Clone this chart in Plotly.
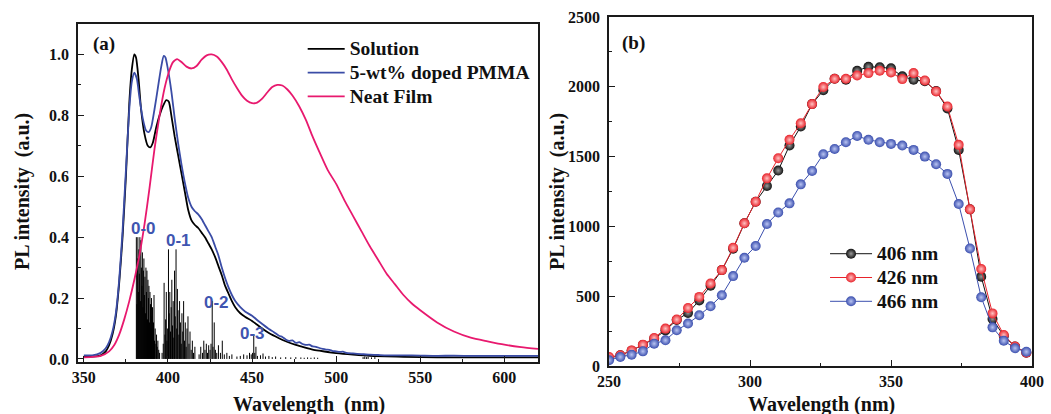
import plotly.graph_objects as go

# ---------------- (a) PL spectra ----------------
SOL_NM = [350, 355, 360, 363, 365, 367, 369, 371, 373, 375, 377, 378.5, 380, 381, 382.5,
          384, 386, 388, 389.5, 391, 393, 395, 397, 399, 400.5, 402, 404, 406, 408, 410,
          412, 414, 416, 418, 420, 422, 424, 426, 428, 430, 432, 434, 436, 438, 440, 443,
          446, 450, 456, 460, 466, 470, 476, 480, 486, 490, 496, 500, 510, 520, 540, 560,
          580, 600, 620]
SOL_I = [0.008, 0.008, 0.012, 0.025, 0.045, 0.08, 0.14, 0.25, 0.40, 0.60, 0.84, 0.95, 1.0,
         0.99, 0.92, 0.82, 0.74, 0.70, 0.695, 0.71, 0.76, 0.80, 0.83, 0.85, 0.845, 0.80,
         0.73, 0.67, 0.61, 0.55, 0.49, 0.455, 0.44, 0.43, 0.415, 0.40, 0.38, 0.36, 0.335,
         0.305, 0.275, 0.24, 0.215, 0.19, 0.17, 0.15, 0.138, 0.125, 0.10, 0.085, 0.068,
         0.058, 0.046, 0.04, 0.031, 0.027, 0.022, 0.019, 0.014, 0.01, 0.007, 0.005, 0.005,
         0.005, 0.005]

PMMA_NM = [350, 355, 360, 363, 365, 367, 369, 371, 373, 375, 377, 378.5, 380, 381.5, 383,
           385, 387, 388.5, 390, 392, 394, 396, 397.5, 398.5, 400, 402, 404, 406, 408, 410,
           412, 414, 416, 418, 420, 422, 424, 426, 428, 430, 432, 434, 436, 438, 440, 443,
           446, 450, 453, 456, 460, 463, 466, 468, 470, 472, 474, 476, 478, 480, 482, 484,
           486, 488, 490, 492, 494, 496, 498, 500, 502, 504, 506, 510, 515, 520, 525, 530,
           540, 550, 560, 570, 580, 590, 600, 610, 620]
PMMA_I = [0.012, 0.012, 0.02, 0.035, 0.055, 0.09, 0.15, 0.26, 0.42, 0.62, 0.82, 0.91, 0.94,
          0.92, 0.86, 0.79, 0.75, 0.745, 0.76, 0.82, 0.89, 0.96, 0.995, 0.99, 0.95, 0.88,
          0.79, 0.71, 0.64, 0.58, 0.53, 0.50, 0.485, 0.475, 0.46, 0.44, 0.42, 0.40, 0.37,
          0.34, 0.30, 0.265, 0.235, 0.21, 0.19, 0.17, 0.155, 0.142, 0.128, 0.115, 0.098,
          0.088, 0.076, 0.072, 0.064, 0.059, 0.061, 0.053, 0.055, 0.049, 0.046, 0.047,
          0.041, 0.040, 0.036, 0.033, 0.031, 0.030, 0.026, 0.025, 0.023, 0.024, 0.020,
          0.018, 0.016, 0.014, 0.013, 0.012, 0.012, 0.011, 0.010, 0.011, 0.010, 0.010,
          0.010, 0.010, 0.010]

FILM_NM = [350, 360, 365, 368, 371, 374, 377, 380, 383, 386, 389, 392, 395, 398, 401, 403,
           405.5, 408, 411, 414, 417, 420, 423, 426, 429, 432, 435, 438, 441, 444, 447, 450,
           453, 456, 459, 462, 465, 468, 471, 474, 478, 482, 486, 490, 495, 500, 505, 510,
           515, 520, 525, 530, 535, 540, 545, 550, 560, 570, 580, 590, 600, 610, 620]
FILM_I = [0.005, 0.01, 0.025, 0.045, 0.08, 0.13, 0.19, 0.26, 0.34, 0.44, 0.56, 0.69, 0.80,
          0.89, 0.95, 0.975, 0.985, 0.975, 0.96, 0.954, 0.962, 0.983, 0.997, 1.0, 0.993,
          0.975, 0.95, 0.918, 0.89, 0.865, 0.848, 0.84, 0.842, 0.855, 0.875, 0.893, 0.90,
          0.898, 0.885, 0.865, 0.83, 0.785, 0.73, 0.68, 0.62, 0.575, 0.52, 0.47, 0.42,
          0.37, 0.325, 0.28, 0.245, 0.21, 0.182, 0.16, 0.12, 0.09, 0.07, 0.058, 0.047,
          0.039, 0.033]

# calculated vibronic stick spectrum
STICK_NM = [381.2, 381.5, 381.8, 382.1, 382.4, 382.7, 383.0, 383.3, 383.6, 383.9, 384.2,
            384.5, 384.8, 385.1, 385.4, 385.7, 386.0, 386.3, 386.6, 386.9, 387.2, 387.5,
            387.8, 388.1, 388.4, 388.7, 389.0, 389.3, 389.6, 389.9, 390.2, 390.5, 390.8,
            391.1, 391.4, 391.7, 392.0, 392.4, 392.8, 393.2, 393.6, 394.0, 394.5, 395.0,
            396.5, 397.2, 397.7, 398.2, 398.6, 399.0, 399.4, 399.8, 400.3, 400.7, 401.1,
            401.5, 401.9, 402.3, 402.7, 403.1, 403.5, 403.9, 404.3, 404.8, 405.2, 405.6,
            406.0, 406.5, 406.9, 407.4, 407.9, 408.3, 408.8, 409.3, 409.8, 410.3, 410.8,
            411.3, 411.9, 412.5, 413.1, 413.8, 414.5, 415.2, 416.0,
            418.5, 419.5, 420.5, 421.3, 422.0, 422.8, 423.5, 424.2, 425.0, 425.6, 426.3,
            426.8, 427.5, 428.2, 429.0, 430.0, 431.2, 432.3, 433.5, 435.0, 436.5, 438.0,
            441.0, 443.0, 445.0, 447.0, 448.5, 449.5, 450.3, 451.0, 451.6, 452.3, 453.2,
            455.0, 456.5, 458.0, 460.0, 462.0, 464.0, 467.0, 470.0, 473.0, 476.0, 479.0,
            481.0, 483.0, 485.0, 487.0, 489.0, 516.0, 517.0, 518.0, 519.0, 521.0, 523.0]
STICK_H = [0.40, 0.18, 0.33, 0.40, 0.22, 0.36, 0.28, 0.40, 0.19, 0.39, 0.30,
           0.24, 0.35, 0.17, 0.29, 0.33, 0.21, 0.27, 0.15, 0.30, 0.22, 0.29,
           0.13, 0.26, 0.20, 0.24, 0.12, 0.22, 0.18, 0.10, 0.20, 0.14, 0.17,
           0.08, 0.12, 0.21, 0.06, 0.10, 0.05, 0.08, 0.04, 0.06, 0.03, 0.02,
           0.02, 0.05, 0.25, 0.08, 0.13, 0.22, 0.06, 0.10, 0.36, 0.15, 0.22,
           0.09, 0.17, 0.26, 0.11, 0.19, 0.07, 0.29, 0.14, 0.36, 0.10, 0.23,
           0.16, 0.08, 0.19, 0.12, 0.05, 0.15, 0.09, 0.19, 0.06, 0.12, 0.04,
           0.10, 0.14, 0.05, 0.09, 0.03, 0.06, 0.02, 0.04,
           0.015, 0.04, 0.02, 0.06, 0.03, 0.05, 0.02, 0.045, 0.03, 0.05, 0.19,
           0.04, 0.12, 0.03, 0.02, 0.045, 0.02, 0.06, 0.015, 0.02, 0.01, 0.015,
           0.008, 0.01, 0.015, 0.012, 0.02, 0.015, 0.02, 0.08, 0.02, 0.04, 0.01,
           0.012, 0.018, 0.008, 0.01, 0.006, 0.008, 0.005, 0.006, 0.005, 0.006, 0.005,
           0.004, 0.005, 0.004, 0.005, 0.004, 0.006, 0.008, 0.006, 0.007, 0.005, 0.006]

BAND_LABELS = ["0-0", "0-1", "0-2", "0-3"]
BAND_NM = [385.6, 406.4, 429.0, 450.4]
BAND_Y = [0.427, 0.39, 0.185, 0.085]

# ---------------- (b) excitation spectra ----------------
EXC_NM = [250, 254, 258, 262, 266, 270, 274, 278, 282, 286, 290, 294, 298, 302, 306, 310,
          314, 318, 322, 326, 330, 334, 338, 342, 346, 350, 354, 358, 362, 366, 370, 374,
          378, 382, 386, 390, 394, 398]
I406 = [55, 77, 110, 150, 195, 255, 330, 380, 470, 575, 687, 840, 1022, 1177, 1290, 1400,
        1580, 1715, 1876, 1975, 2057, 2050, 2115, 2143, 2140, 2132, 2075, 2050, 2040, 1970,
        1845, 1548, 1122, 640, 337, 215, 140, 95]
I426 = [65, 77, 112, 153, 201, 268, 333, 416, 495, 591, 687, 847, 1022, 1177, 1344, 1488,
        1620, 1739, 1876, 1998, 2057, 2057, 2081, 2098, 2115, 2103, 2055, 2098, 2045, 1967,
        1859, 1584, 1122, 695, 377, 222, 140, 95]
I466 = [41, 65, 81, 105, 160, 184, 256, 304, 364, 428, 507, 644, 775, 859, 1017, 1100,
        1165, 1301, 1397, 1517, 1555, 1603, 1648, 1620, 1603, 1591, 1579, 1548, 1500, 1445,
        1376, 1160, 842, 492, 277, 181, 127, 102]

SERIF = "Liberation Serif"
SANS = "Liberation Sans"
AXIS_COLOR = "#1a1a1a"


def big(label):
    # legend rows are spaced by the legend font size; the label itself is set larger
    return '<span style="font-size:19.5px">' + label + "</span>"


fig = go.Figure()

# stick spectrum as vertical segments
sx, sy = [], []
for nm, h in zip(STICK_NM, STICK_H):
    sx += [nm, nm, None]
    sy += [0, h, None]
fig.add_trace(go.Scatter(x=sx, y=sy, mode="lines", line=dict(color="black", width=1.0),
                         showlegend=False, hoverinfo="skip", xaxis="x", yaxis="y"))

for name, xs, ys, col in [("Solution", SOL_NM, SOL_I, "#000000"),
                          ("5-wt% doped PMMA", PMMA_NM, PMMA_I, "#3a4ca6"),
                          ("Neat Film", FILM_NM, FILM_I, "#e8196e")]:
    fig.add_trace(go.Scatter(x=xs, y=ys, mode="lines", name=big(name),
                             line=dict(color=col, width=1.8, shape="spline", smoothing=0.6),
                             xaxis="x", yaxis="y", legend="legend"))

for name, ys, col, hi in [("406 nm", I406, "#111111", "#9a9a9a"),
                          ("426 nm", I426, "#e8232b", "#ffc2c2"),
                          ("466 nm", I466, "#3b4fae", "#b9c4f2")]:
    fig.add_trace(go.Scatter(x=EXC_NM, y=ys, mode="lines+markers", name=big(name),
                             line=dict(color=col, width=1),
                             marker=dict(size=10, color=col,
                                         gradient=dict(type="radial", color=hi),
                                         line=dict(width=0)),
                             xaxis="x2", yaxis="y2", legend="legend2"))

tick_font = dict(family=SERIF, size=16, color="#111", weight="bold")
common = dict(showline=True, mirror=True, linecolor=AXIS_COLOR, linewidth=1.6,
              ticks="inside", ticklen=6, tickwidth=1.3, tickcolor=AXIS_COLOR,
              showgrid=False, zeroline=False, tickfont=tick_font, automargin=False)

fig.update_layout(
    template="none",
    width=1051, height=414,
    margin=dict(l=0, r=0, t=0, b=0, autoexpand=False),
    paper_bgcolor="white", plot_bgcolor="white",
    xaxis=dict(domain=[0.0742, 0.5119], range=[346.5, 620], tickvals=[350, 400, 450, 500, 550, 600],
               minor=dict(dtick=25, tick0=350, ticks="inside", ticklen=3.5, tickcolor=AXIS_COLOR),
               anchor="y", ticklabelstandoff=0, **common),
    yaxis=dict(domain=[0.1256, 0.942], range=[-0.01, 1.1], tickvals=[0, 0.2, 0.4, 0.6, 0.8, 1.0],
               tickformat=".1f",
               minor=dict(dtick=0.1, tick0=0, ticks="inside", ticklen=3.5, tickcolor=AXIS_COLOR),
               anchor="x", ticklabelstandoff=4, **common),
    xaxis2=dict(domain=[0.5795, 0.9819], range=[250, 400], tickvals=[250, 300, 350, 400],
                minor=dict(dtick=25, tick0=250, ticks="inside", ticklen=3.5, tickcolor=AXIS_COLOR),
                anchor="y2", ticklabelstandoff=0, **common),
    yaxis2=dict(domain=[0.1159, 0.959], range=[0, 2500], tickvals=[0, 500, 1000, 1500, 2000, 2500],
                minor=dict(dtick=250, tick0=0, ticks="inside", ticklen=3.5, tickcolor=AXIS_COLOR),
                anchor="x2", ticklabelstandoff=4, **common),
    legend=dict(x=0.288, y=0.923, xanchor="left", yanchor="top", bgcolor="rgba(0,0,0,0)",
                font=dict(family=SERIF, size=16, color="#111", weight="bold"),
                tracegroupgap=0, itemwidth=37),
    legend2=dict(x=0.785, y=0.428, xanchor="left", yanchor="top", bgcolor="rgba(0,0,0,0)",
                 font=dict(family=SERIF, size=16, color="#111", weight="bold"),
                 tracegroupgap=0, itemwidth=42),
)

ann = []
for lab, nm, yv in zip(BAND_LABELS, BAND_NM, BAND_Y):
    ann.append(dict(x=nm, y=yv, xref="x", yref="y", text=lab, showarrow=False,
                    font=dict(family=SANS, size=17, color="#3f55b0", weight="bold")))
title_font = dict(family=SERIF, size=20, color="#111", weight="bold")
ctr = dict(xref="paper", yref="paper", xanchor="center", yanchor="middle", showarrow=False)
ann += [
    dict(x=309 / 1051, y=1 - 404 / 414, text="Wavelength  (nm)", font=title_font, **ctr),
    dict(x=821 / 1051, y=1 - 404 / 414, text="Wavelength (nm)", font=title_font, **ctr),
    dict(x=22 / 1051, y=1 - 192 / 414, text="PL intensity  (a.u.)", textangle=-90,
         font=title_font, **ctr),
    dict(x=557 / 1051, y=1 - 192 / 414, text="PL intensity  (a.u.)", textangle=-90,
         font=title_font, **ctr),
    dict(x=104 / 1051, y=1 - 44 / 414, text="(a)",
         font=dict(family=SERIF, size=19, color="#111", weight="bold"), **ctr),
    dict(x=633 / 1051, y=1 - 43 / 414, text="(b)",
         font=dict(family=SERIF, size=19, color="#111", weight="bold"), **ctr),
]
fig.update_layout(annotations=ann)

fig.write_html("out.html")
